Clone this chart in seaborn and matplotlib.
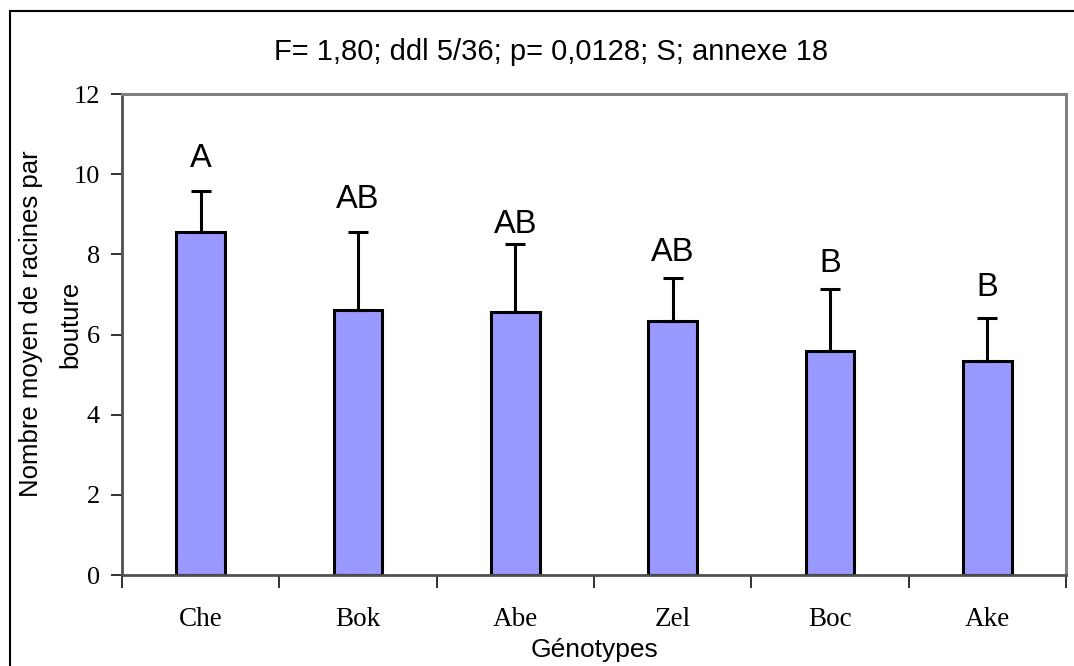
import matplotlib
matplotlib.use("Agg")
import matplotlib.pyplot as plt
from matplotlib.patches import Rectangle
import numpy as np
import pandas as pd
import seaborn as sns

# Mean root count per cutting, by genotype
genotypes = ["Che", "Bok", "Abe", "Zel", "Boc", "Ake"]
means = [8.56, 6.60, 6.56, 6.33, 5.58, 5.33]
errors = [1.02, 1.95, 1.69, 1.09, 1.56, 1.09]
groups = ["A", "AB", "AB", "AB", "B", "B"]
group_label_y = [10.0, 8.97, 8.35, 7.66, 7.38, 6.79]
y_ticks = [0, 2, 4, 6, 8, 10, 12]

title = "F= 1,80; ddl 5/36; p= 0,0128; S; annexe 18"
xlabel = "Génotypes"
ylabel_lines = ["Nombre moyen de racines par", "bouture"]

sns.set_theme(style="white")
plt.rcParams["font.family"] = ["Liberation Sans", "DejaVu Sans"]
plt.rcParams["text.color"] = "black"

W, H = 1074, 666
fig = plt.figure(figsize=(W / 100, H / 100), dpi=100)
ax = fig.add_axes([122 / W, 1 - 575 / H, (1066 - 122) / W, (575 - 94) / H])

df = pd.DataFrame({"genotype": genotypes, "mean": means})
sns.barplot(data=df, x="genotype", y="mean", order=genotypes, color="#9999FF",
            saturation=1, width=0.31, edgecolor="black", linewidth=2.2,
            errorbar=None, ax=ax, zorder=2)

xpos = np.arange(len(genotypes))
ax.errorbar(xpos, means, yerr=[np.zeros(len(errors)), errors], fmt="none",
            ecolor="black", elinewidth=2.2, capsize=7, capthick=2.2, zorder=3)

for x, g, gy in zip(xpos, groups, group_label_y):
    ax.text(x, gy, g, ha="center", va="bottom", fontsize=23.5, color="black",
            family="Liberation Sans")

ax.set_xlim(-0.5, len(genotypes) - 0.5)
ax.set_ylim(0, 12)
ax.set_yticks(y_ticks)
ax.set_yticklabels([str(t) for t in y_ticks], family="Liberation Serif",
                   fontsize=19, color="black")
ax.set_xticks(xpos)
ax.set_xticklabels(genotypes, family="Liberation Serif", fontsize=19.5, color="black")
ax.set_xticks(np.arange(-0.5, len(genotypes), 1.0), minor=True)
ax.tick_params(axis="x", which="major", length=0, pad=23)
ax.tick_params(axis="x", which="minor", length=9, width=1.3, direction="out",
               color="#202020", bottom=True)
ax.tick_params(axis="y", which="major", length=8, width=1.3, direction="out",
               color="#202020", left=True, pad=8)
ax.set_xlabel("")
ax.set_ylabel("")
ax.grid(False)

for side in ["left", "bottom"]:
    ax.spines[side].set_color("#505050")
    ax.spines[side].set_linewidth(2)
for side in ["top", "right"]:
    ax.spines[side].set_color("#808080")
    ax.spines[side].set_linewidth(2.2)

fig.text(551 / W, 1 - 52 / H, title, ha="center", va="center", fontsize=21)
fig.text(594 / W, 1 - 650 / H, xlabel, ha="center", va="center", fontsize=19)
# Two-line vertical axis title
for lx, line in zip([31, 70], ylabel_lines):
    fig.text(lx / W, 1 - 324 / H, line, ha="center", va="center", rotation=90,
             fontsize=18.5)

# Outer frame (left and top edges visible)
fig.patches.append(Rectangle((10 / W, -0.1), 1.2, 1 - 11 / H + 0.1,
                             transform=fig.transFigure, fill=False,
                             edgecolor="black", linewidth=1.5))

fig.savefig("out.png", dpi=100)
